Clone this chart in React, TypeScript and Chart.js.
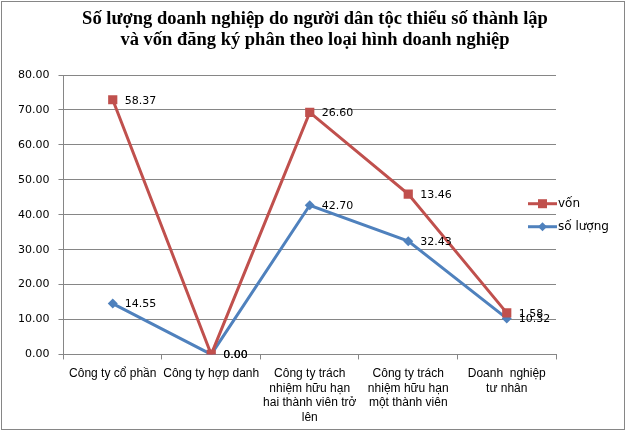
import { Chart, registerables, Plugin } from 'chart.js';
import { useEffect, useRef } from 'react';

Chart.register(...registerables);

const categories = [
  ['Công ty cổ phần'],
  ['Công ty hợp danh'],
  ['Công ty trách', 'nhiệm hữu hạn', 'hai thành viên trở', 'lên'],
  ['Công ty trách', 'nhiệm hữu hạn', 'một thành viên'],
  ['Doanh  nghiệp', 'tư nhân'],
];
const soLuong = [14.55, 0, 42.7, 32.43, 10.32];
const von = [58.37, 0, 26.6, 13.46, 1.58];
const yTicks = [0, 10, 20, 30, 40, 50, 60, 70, 80];
const titleLines = [
  'Số lượng doanh nghiệp do người dân tộc thiểu số thành lập',
  'và vốn đăng ký phân theo loại hình doanh nghiệp',
];

const RED = '#C0504D';
const BLUE = '#4F81BD';
const GRID = '#868686';

// the source chart is stacked: the red line sits on top of the blue one
const vonStacked = von.map((v, i) => v + soLuong[i]);
const labelValues = [von, soLuong];

const frame: Plugin = {
  id: 'frame',
  beforeDraw(chart) {
    const { ctx } = chart;
    ctx.save();
    ctx.fillStyle = '#fff';
    ctx.fillRect(0, 0, chart.width, chart.height);
    ctx.strokeStyle = GRID;
    ctx.lineWidth = 1;
    ctx.strokeRect(1.5, 1.5, 623, 428);
    ctx.fillStyle = '#000';
    ctx.font = 'bold 18.5px "Liberation Serif"';
    ctx.textAlign = 'center';
    ctx.textBaseline = 'alphabetic';
    titleLines.forEach((t, i) => ctx.fillText(t, 315, 24 + i * 21));
    ctx.restore();
  },
};

const dataLabels: Plugin = {
  id: 'dataLabels',
  afterDatasetsDraw(chart) {
    const { ctx } = chart;
    ctx.save();
    ctx.font = '11px "DejaVu Sans"';
    ctx.fillStyle = '#000';
    ctx.textBaseline = 'middle';
    chart.data.datasets.forEach((_, di) => {
      chart.getDatasetMeta(di).data.forEach((pt, i) => {
        ctx.fillText(labelValues[di][i].toFixed(2), pt.x + 12, pt.y + 1);
      });
    });
    ctx.restore();
  },
};

const sideLegend: Plugin = {
  id: 'sideLegend',
  afterDraw(chart) {
    const { ctx, chartArea } = chart;
    const mid = (chartArea.top + chartArea.bottom) / 2;
    const x0 = chartArea.right - 28;
    ctx.save();
    ctx.font = '12px "DejaVu Sans"';
    ctx.textBaseline = 'middle';
    chart.data.datasets.forEach((ds: any, i) => {
      const y = mid - 11 + i * 23;
      ctx.strokeStyle = ds.borderColor;
      ctx.lineWidth = 3;
      ctx.beginPath();
      ctx.moveTo(x0, y);
      ctx.lineTo(x0 + 29, y);
      ctx.stroke();
      ctx.fillStyle = ds.borderColor;
      if (ds.pointStyle === 'rect') {
        ctx.fillRect(x0 + 10, y - 4.5, 9, 9);
      } else {
        ctx.beginPath();
        ctx.moveTo(x0 + 14.5, y - 4.5);
        ctx.lineTo(x0 + 19, y);
        ctx.lineTo(x0 + 14.5, y + 4.5);
        ctx.lineTo(x0 + 10, y);
        ctx.closePath();
        ctx.fill();
      }
      ctx.fillStyle = '#000';
      ctx.fillText(ds.label, x0 + 30, y);
    });
    ctx.restore();
  },
};

const App = () => {
  const chartRef = useRef<HTMLCanvasElement>(null);
  const chartInstanceRef = useRef<Chart | null>(null);

  useEffect(() => {
    document.body.style.margin = '0';
    if (chartRef.current) {
      if (chartInstanceRef.current) chartInstanceRef.current.destroy();
      chartInstanceRef.current = new Chart(chartRef.current, {
        type: 'line',
        data: {
          labels: categories,
          datasets: [
            {
              label: 'vốn',
              data: vonStacked,
              borderColor: RED,
              backgroundColor: RED,
              borderWidth: 3,
              pointStyle: 'rect',
              pointRadius: 6.5,
              pointBorderWidth: 0,
              tension: 0,
            },
            {
              label: 'số lượng',
              data: soLuong,
              borderColor: BLUE,
              backgroundColor: BLUE,
              borderWidth: 3,
              pointStyle: 'rectRot',
              pointRadius: 5,
              pointBorderWidth: 0,
              tension: 0,
            },
          ],
        },
        options: {
          responsive: false,
          animation: false,
          layout: { padding: { left: 9, right: 72, top: 75, bottom: 1 } },
          plugins: {
            legend: { display: false },
            tooltip: { enabled: false },
            title: { display: false },
          },
          scales: {
            x: {
              offset: true,
              grid: {
                offset: true,
                drawOnChartArea: false,
                color: GRID,
                tickLength: 5,
              },
              border: { color: GRID },
              ticks: {
                color: '#000',
                padding: 7,
                maxRotation: 0,
                autoSkip: false,
                font: { family: '"Liberation Sans"', size: 12, lineHeight: 1.22 },
              },
            },
            y: {
              min: 0,
              max: 80,
              afterBuildTicks: (s: any) => {
                s.ticks = yTicks.map((v) => ({ value: v }));
              },
              grid: { color: GRID, tickLength: 5 },
              border: { color: GRID },
              ticks: {
                color: '#000',
                padding: 9,
                font: { family: '"DejaVu Sans"', size: 11 },
                callback: (v: any) => Number(v).toFixed(2),
              },
            },
          },
        },
        plugins: [frame, dataLabels, sideLegend],
      });
    }
    return () => {
      if (chartInstanceRef.current) chartInstanceRef.current.destroy();
    };
  }, []);

  return <canvas ref={chartRef} width={628} height={433} />;
};

export default App;
